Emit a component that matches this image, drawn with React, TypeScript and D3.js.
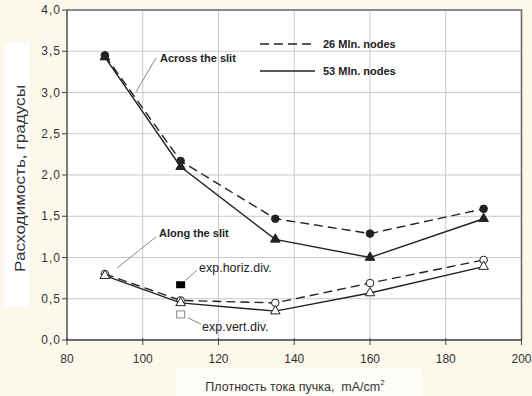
import React from "react";
import * as d3 from "d3";

// current density, mA/cm2
const xs = [90, 110, 135, 160, 190];

// divergence, degrees
const across26 = [3.45, 2.17, 1.47, 1.29, 1.59];
const across53 = [3.43, 2.1, 1.22, 1.0, 1.47];
const along26 = [0.8, 0.48, 0.45, 0.69, 0.97];
const along53 = [0.78, 0.45, 0.35, 0.57, 0.89];

const expHoriz = { x: 110, y: 0.67 };
const expVert = { x: 110, y: 0.31 };

const xTicks = [80, 100, 120, 140, 160, 180, 200];
const yTicks = [0, 0.5, 1, 1.5, 2, 2.5, 3, 3.5, 4];

const W = 532;
const H = 396;
const FONT = "Arial, 'Liberation Sans', sans-serif";
const INK = "#222";

const App = () => {
  const x = d3.scaleLinear().domain([80, 200]).range([67, 521.5]);
  const y = d3.scaleLinear().domain([0, 4]).range([340, 10]);

  const line = d3
    .line<number>()
    .x((d, i) => x(xs[i]))
    .y((d) => y(d));

  const tri = d3.symbol().type(d3.symbolTriangle).size(40)();
  const fmt = (v: number) => v.toFixed(1).replace(".", ",");

  const series = [
    { data: across26, dash: "9,5", marker: "circle", fill: INK },
    { data: across53, dash: null, marker: "tri", fill: INK },
    { data: along26, dash: "9,5", marker: "circle", fill: "#fff" },
    { data: along53, dash: null, marker: "tri", fill: "#fff" },
  ];

  return (
    <svg
      width={W}
      height={H}
      style={{ position: "absolute", left: 0, top: 0 }}
      fontFamily={FONT}
    >
      <rect width={W} height={H} fill="#fdf8ec" />
      {/* white boxes behind axis titles */}
      <rect x={4} y={42} width={25} height={265} fill="#fff" />
      <rect x={176} y={369} width={246} height={27} fill="#fffdf8" />

      {/* plot area */}
      <rect
        x={x(80)}
        y={y(4)}
        width={x(200) - x(80)}
        height={y(0) - y(4)}
        fill="#fff"
      />
      {yTicks.map((t) => (
        <line
          key={"gy" + t}
          x1={x(80)}
          x2={x(200)}
          y1={y(t)}
          y2={y(t)}
          stroke="#c9c9c9"
          strokeWidth={1}
        />
      ))}
      {xTicks.map((t) => (
        <line
          key={"gx" + t}
          x1={x(t)}
          x2={x(t)}
          y1={y(0)}
          y2={y(4)}
          stroke="#c9c9c9"
          strokeWidth={1}
        />
      ))}
      {/* border */}
      <path
        d={`M${x(80)},${y(4)}H${x(200)}V${y(0)}`}
        fill="none"
        stroke="#6e6e6e"
        strokeWidth={1.6}
      />
      <path
        d={`M${x(80)},${y(4)}V${y(0)}H${x(200)}`}
        fill="none"
        stroke="#444"
        strokeWidth={1.3}
      />

      {/* ticks + labels */}
      {yTicks.map((t) => (
        <g key={"ty" + t}>
          <line x1={x(80) - 5} x2={x(80)} y1={y(t)} y2={y(t)} stroke="#444" />
          <text
            x={x(80) - 6}
            y={y(t) + 4}
            textAnchor="end"
            fontSize={12}
            letterSpacing={1}
            fill="#333"
          >
            {fmt(t)}
          </text>
        </g>
      ))}
      {xTicks.map((t) => (
        <g key={"tx" + t}>
          <line x1={x(t)} x2={x(t)} y1={y(0) - 2} y2={y(0) + 5} stroke="#444" />
          <text
            x={x(t)}
            y={y(0) + 23}
            textAnchor="middle"
            fontSize={12}
            fill="#333"
          >
            {t}
          </text>
        </g>
      ))}

      {/* axis titles */}
      <text
        transform="translate(25,178.5) rotate(-90)"
        textAnchor="middle"
        fontSize={15.5}
        textLength={187}
        lengthAdjust="spacingAndGlyphs"
        fill="#333"
      >
        Расходимость, градусы
      </text>
      <text x={295} y={391} textAnchor="middle" fontSize={12.5} fill="#333">
        Плотность тока пучка,{"\u00a0\u00a0"}mA/cm
        <tspan fontSize={8} dy={-6}>
          2
        </tspan>
      </text>

      {/* series */}
      {series.map((s, k) => (
        <g key={"s" + k}>
          <path
            d={line(s.data) || ""}
            fill="none"
            stroke={INK}
            strokeWidth={1.4}
            strokeDasharray={s.dash || undefined}
          />
          {s.data.map((v, i) =>
            s.marker === "circle" ? (
              <circle
                key={i}
                cx={x(xs[i])}
                cy={y(v)}
                r={3.8}
                fill={s.fill}
                stroke={INK}
                strokeWidth={1}
              />
            ) : (
              <path
                key={i}
                d={tri || ""}
                transform={`translate(${x(xs[i])},${y(v)})`}
                fill={s.fill}
                stroke={INK}
                strokeWidth={1}
              />
            )
          )}
        </g>
      ))}

      {/* experimental points */}
      <rect
        x={x(expHoriz.x) - 4.5}
        y={y(expHoriz.y) - 3.5}
        width={9}
        height={7}
        fill="#000"
      />
      <rect
        x={x(expVert.x) - 4}
        y={y(expVert.y) - 3.5}
        width={8}
        height={7}
        fill="#fff"
        stroke="#888"
        strokeWidth={1}
      />

      {/* annotations */}
      <g stroke="#888" strokeWidth={1}>
        <line x1={156} y1={58} x2={136} y2={92} />
        <line x1={156} y1={237} x2={117} y2={268} />
        <line x1={186} y1={280} x2={197} y2={270} />
        <line x1={188} y1={318} x2={201} y2={324} />
      </g>
      <text x={160} y={62} fontSize={11} fontWeight="bold" fill={INK}>
        Across the slit
      </text>
      <text x={159} y={237} fontSize={11} fontWeight="bold" fill={INK}>
        Along the slit
      </text>
      <text x={199} y={272} fontSize={12.5} fill={INK}>
        exp.horiz.div.
      </text>
      <text x={202} y={331} fontSize={12.5} fill={INK}>
        exp.vert.div.
      </text>

      {/* legend */}
      <line x1={260} x2={315} y1={44} y2={44} stroke={INK} strokeWidth={1.4} strokeDasharray="9,5" />
      <line x1={260} x2={315} y1={71} y2={71} stroke={INK} strokeWidth={1.4} />
      <text x={323} y={48} fontSize={11} fontWeight="bold" fill={INK}>
        26 Mln. nodes
      </text>
      <text x={323} y={75} fontSize={11} fontWeight="bold" fill={INK}>
        53 Mln. nodes
      </text>
    </svg>
  );
};

export default App;
